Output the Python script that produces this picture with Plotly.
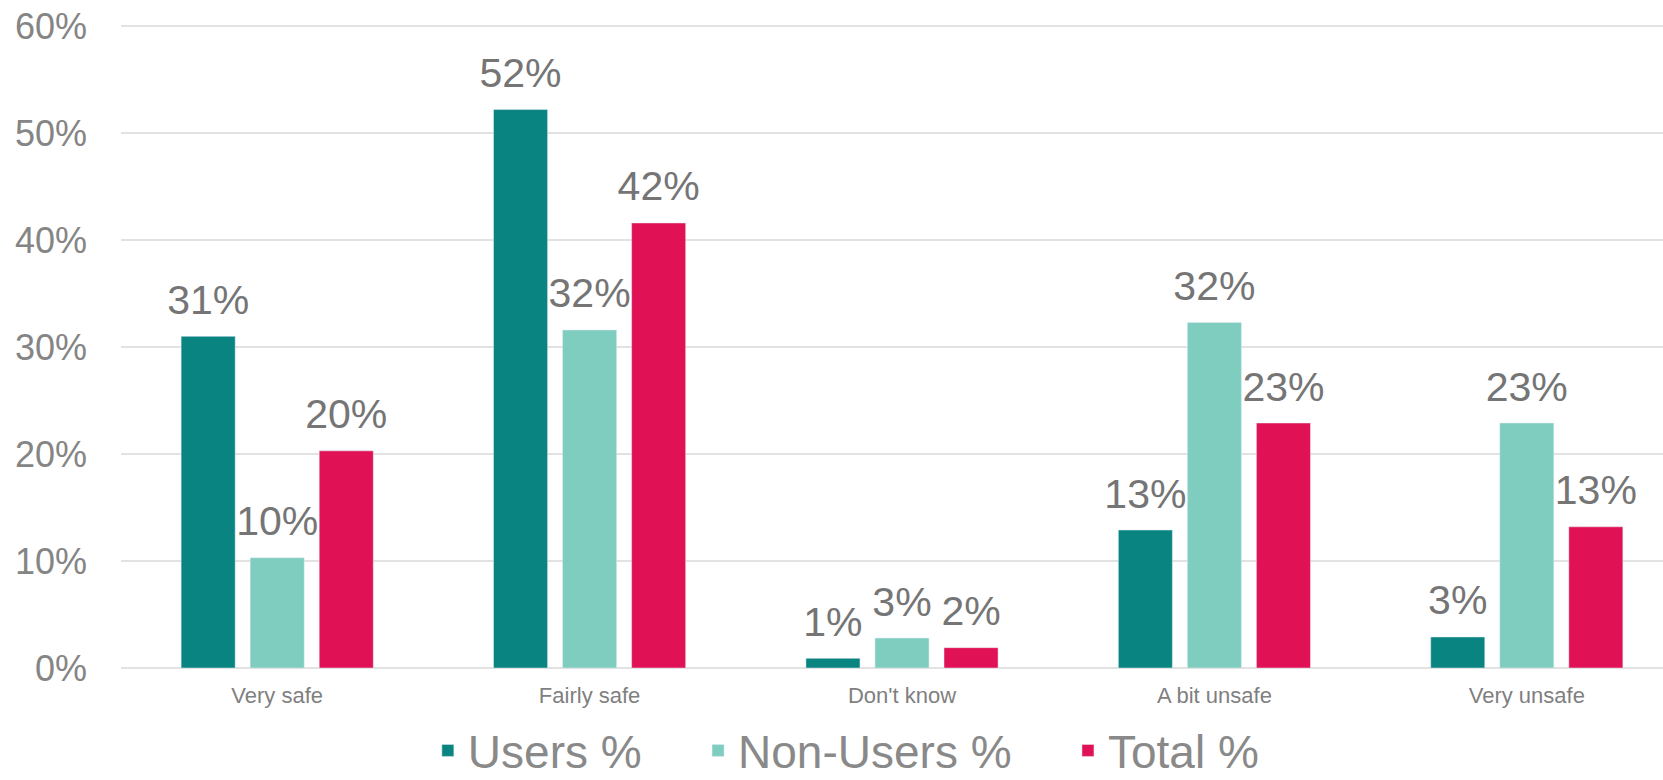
import plotly.graph_objects as go

# Categorías y valores (%)
categorias = ["Very safe", "Fairly safe", "Don't know", "A bit unsafe", "Very unsafe"]
usuarios = [31.0, 52.2, 0.9, 12.9, 2.9]
no_usuarios = [10.3, 31.6, 2.8, 32.3, 22.9]
total = [20.3, 41.6, 1.9, 22.9, 13.2]

# Marcas del eje Y
ticks_y = [0, 10, 20, 30, 40, 50, 60]
ticks_y_texto = ["0%", "10%", "20%", "30%", "40%", "50%", "60%"]

series = [
    ("Users %", usuarios, "#098481"),
    ("Non-Users %", no_usuarios, "#7ECDBF"),
    ("Total %", total, "#E01155"),
]

fig = go.Figure()
# Barras
for nombre, valores, color in series:
    fig.add_trace(go.Bar(
        x=categorias,
        y=valores,
        name=nombre + "\u00a0\u00a0\u00a0\u2009\u200a",  # espacio extra entre elementos de la leyenda
        marker_color=color,
        hoverinfo="skip",
    ))
# Etiquetas de valor encima de cada barra (scatter agrupado igual que las barras)
for nombre, valores, color in series:
    fig.add_trace(go.Scatter(
        x=categorias,
        y=valores,
        mode="markers+text",
        text=[f"{round(v)}%" for v in valores],
        textposition="top center",
        marker=dict(size=18, opacity=0),
        textfont=dict(family="Arial, Liberation Sans", size=41, color="#757575"),
        showlegend=False,
        cliponaxis=False,
        hoverinfo="skip",
    ))

fig.update_layout(
    width=1663,
    height=780,
    barmode="group",
    bargap=0.337,
    bargroupgap=0.217,
    scattermode="group",
    scattergap=0.337,
    plot_bgcolor="white",
    paper_bgcolor="white",
    margin=dict(l=121, r=0, t=24, b=112, autoexpand=False),
    font=dict(family="Arial, Liberation Sans", color="#808080"),
    xaxis=dict(
        type="category",
        range=[-0.5, 4.436],
        showgrid=False,
        showline=False,
        tickfont=dict(size=22, color="#7f7f7f"),
        ticklabelstandoff=12,
    ),
    yaxis=dict(
        range=[0, 60.2],
        tickvals=ticks_y,
        ticktext=ticks_y_texto,
        showgrid=True,
        gridcolor="#e2e2e2",
        gridwidth=2,
        zeroline=True,
        zerolinecolor="#e2e2e2",
        zerolinewidth=2,
        tickfont=dict(size=36, color="#858585"),
        ticklabelstandoff=33,
        ticklabeloverflow="allow",
    ),
    legend=dict(
        orientation="h",
        x=0.199,
        xanchor="left",
        yref="container",
        y=1 - 714 / 780,
        yanchor="top",
        font=dict(size=46, color="#898989"),
        itemwidth=30,
    ),
)

# Quitar el margen por defecto del body para que la figura ocupe toda la ventana
fig.write_html(
    "out.html",
    config={"displayModeBar": False},
    post_script="document.body.style.margin = '0';",
)
